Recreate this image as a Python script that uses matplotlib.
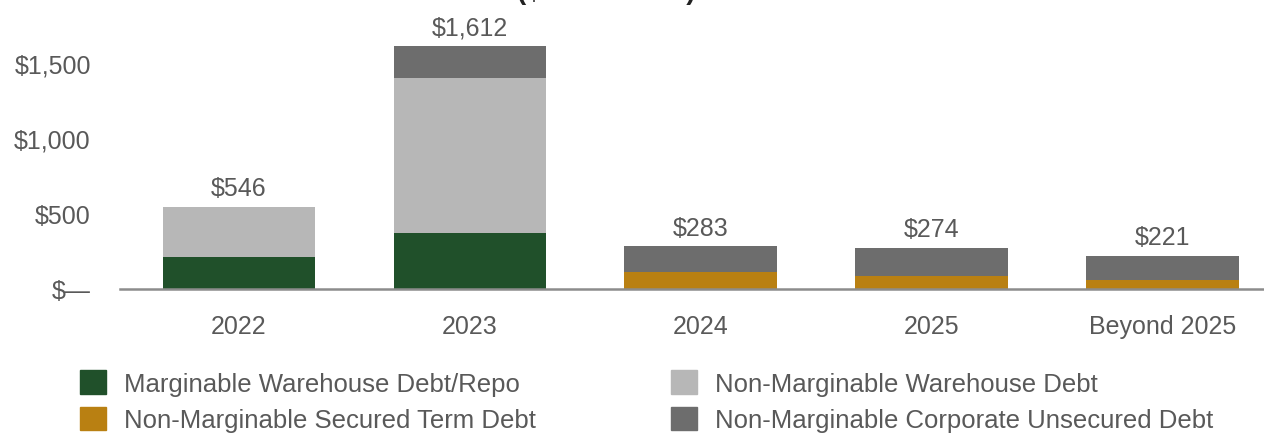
import matplotlib.pyplot as plt
import numpy as np

plt.rcParams['font.family'] = ['Liberation Sans', 'DejaVu Sans']

# Debt maturities ($ in millions)
years = ["2022", "2023", "2024", "2025", "Beyond 2025"]
totals = [546, 1612, 283, 274, 221]
marg_warehouse = [210, 370, 0, 0, 0]
nonmarg_warehouse = [336, 1031, 0, 0, 0]
nonmarg_secured = [0, 0, 110, 88, 57]
nonmarg_corporate = [0, 211, 173, 186, 164]

yticks = [0, 500, 1000, 1500]
ytick_labels = ["$\u2014", "$500", "$1,000", "$1,500"]

c_green = "#20502A"
c_light = "#B7B7B7"
c_orange = "#B98012"
c_dark = "#6D6D6D"
txt = "#595959"

fig = plt.figure(figsize=(12.64, 4.35), dpi=100)
ax = fig.add_axes([120 / 1264, 1 - 290 / 435, 1144 / 1264, 290 / 435])

x = np.arange(len(years))
w = 0.66
bottom = np.zeros(len(years))
for vals, col in [(marg_warehouse, c_green), (nonmarg_secured, c_orange),
                  (nonmarg_warehouse, c_light), (nonmarg_corporate, c_dark)]:
    ax.bar(x, vals, w, bottom=bottom, color=col, edgecolor="none")
    bottom += np.array(vals)

for xi, t in zip(x, totals):
    ax.text(xi, t + 45, "${:,}".format(t), ha="center", va="bottom",
            fontsize=18, color=txt)

ax.set_xlim(-0.515, 4.44)
ax.set_ylim(0, 1924)
ax.set_xticks(x)
ax.set_xticklabels(years, fontsize=18, color=txt)
ax.set_yticks(yticks)
ax.set_yticklabels(ytick_labels, fontsize=18, color=txt)
ax.tick_params(axis="both", length=0)
ax.tick_params(axis="x", pad=18)
ax.tick_params(axis="y", pad=21)
for s in ["top", "right", "left"]:
    ax.spines[s].set_visible(False)
ax.spines["bottom"].set_color("#8C8C8C")
ax.spines["bottom"].set_linewidth(1.8)

# title is cropped off at the top in the source image
fig.text(0.48, 1 + 1 / 435, "($ in millions)", ha="center", va="baseline",
         fontsize=20, fontweight="bold", color="#222222")

handles = [plt.Rectangle((0, 0), 1, 1, color=c) for c in [c_green, c_orange, c_light, c_dark]]
labels = ["Marginable Warehouse Debt/Repo", "Non-Marginable Secured Term Debt",
          "Non-Marginable Warehouse Debt", "Non-Marginable Corporate Unsecured Debt"]
leg = fig.legend(handles, labels, ncol=2, loc="upper left",
                 bbox_to_anchor=(57 / 1264, 1 - 348 / 435), frameon=False,
                 fontsize=18.5, handlelength=1.0, handleheight=1.05,
                 handletextpad=0.72, columnspacing=5.25, labelspacing=0.42)
for t in leg.get_texts():
    t.set_color(txt)

fig.savefig("out.png", dpi=100)
